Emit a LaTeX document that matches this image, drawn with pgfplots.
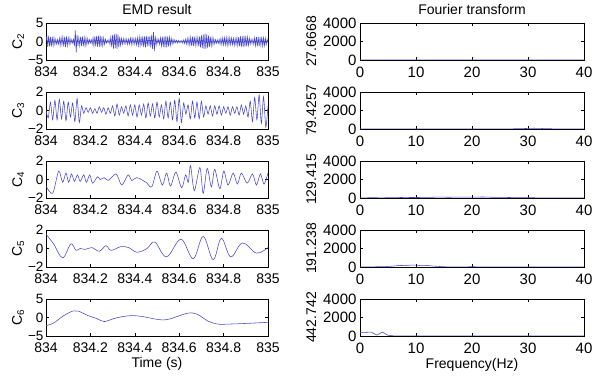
\documentclass[border=0pt]{standalone}
\usepackage{fontspec}
\setmainfont{Liberation Sans}
\usepackage{pgfplots}
\pgfplotsset{compat=1.18}
\definecolor{sig}{RGB}{70,70,200}
\pgfplotsset{
  base/.style={scale only axis, height=37pt, anchor=north west,
    tick align=inside, major tick length=3pt,
    axis line style={line width=0.5pt},
    every tick/.style={black, line width=0.5pt},
    tick label style={font=\fontsize{14}{14}\selectfont},
    xticklabel style={inner ysep=0.5pt, yshift=-6pt},
    yticklabel style={inner ysep=0.5pt},
    label style={font=\fontsize{14}{14}\selectfont},
    xlabel style={yshift=-1pt},
    title style={font=\fontsize{14}{14}\selectfont, yshift=-1pt},
    /pgf/number format/assume math mode=true,
    scaled ticks=false, clip=true},
  lft/.style={base, width=222pt, xmin=834, xmax=835,
    xtick={834,834.2,834.4,834.6,834.8,835},
    xticklabels={834,834.2,834.4,834.6,834.8,835},
    yticklabel style={xshift=1pt, font=\fontsize{13.5}{13.5}\selectfont},
    ylabel style={yshift=-3pt}},
  rgt/.style={base, width=224pt, xmin=0, xmax=40, ymin=0, ymax=4000,
    xtick={0,10,20,30,40}, xticklabels={0,10,20,30,40},
    ytick={0,2000,4000}, yticklabels={0,2000,4000},
    tick label style={font=\fontsize{15}{15}\selectfont},
    ylabel style={yshift=0pt}},
  sigl/.style={color=sig, line width=0.55pt, mark=none},
}
\begin{document}
\begin{tikzpicture}
\path[use as bounding box] (0pt,0pt) rectangle (593pt,379pt);
% ---------- left column ----------
\begin{axis}[lft, at={(46pt,356pt)}, ymin=-5, ymax=5, ytick={-5,0,5}, yticklabels={−5,0,5},
  ylabel={C\textsubscript{2}}, title={EMD result}]
\addplot[sigl] coordinates {
(834.000,0.3)(834.004,1.4)(834.008,-1.5)(834.012,1.6)(834.016,-1.3)
(834.020,1.2)(834.024,-1.4)(834.028,1.3)(834.032,-1.1)(834.036,1.0)
(834.040,-0.8)(834.044,0.6)(834.048,-0.7)(834.052,0.5)(834.056,-0.7)
(834.060,0.9)(834.064,-1.0)(834.068,1.1)(834.072,-0.9)(834.076,1.2)
(834.080,-1.4)(834.084,1.3)(834.088,-1.5)(834.092,1.4)(834.096,-1.1)
(834.100,1.0)(834.104,-0.8)(834.108,0.9)(834.112,-0.6)(834.116,0.5)
(834.120,-0.4)(834.124,0.6)(834.128,-1.2)(834.132,3.0)(834.136,-3.0)
(834.140,1.8)(834.144,-1.2)(834.148,1.0)(834.152,-1.1)(834.156,1.3)
(834.160,-1.2)(834.164,1.4)(834.168,-1.3)(834.172,1.1)(834.176,-1.2)
(834.180,1.0)(834.184,-0.9)(834.188,0.8)(834.192,-0.6)(834.196,0.5)
(834.200,-0.4)(834.204,0.5)(834.208,-0.7)(834.212,1.0)(834.216,-1.2)
(834.220,1.4)(834.224,-1.3)(834.228,1.5)(834.232,-1.4)(834.236,1.6)
(834.240,-1.5)(834.244,1.6)(834.248,-1.4)(834.252,1.3)(834.256,-1.2)
(834.260,1.0)(834.264,-0.8)(834.268,0.6)(834.272,-0.4)(834.276,0.3)
(834.280,-0.3)(834.284,0.5)(834.288,-0.8)(834.292,1.2)(834.296,-1.5)
(834.300,1.8)(834.304,-1.9)(834.308,2.0)(834.312,-1.8)(834.316,2.1)
(834.320,-2.0)(834.324,1.9)(834.328,-1.6)(834.332,1.3)(834.336,-1.0)
(834.340,0.8)(834.344,-0.7)(834.348,0.8)(834.352,-0.6)(834.356,0.7)
(834.360,-0.6)(834.364,0.7)(834.368,-0.8)(834.372,0.6)(834.376,-0.7)
(834.380,0.9)(834.384,-0.8)(834.388,0.9)(834.392,-0.7)(834.396,0.8)
(834.400,-0.7)(834.404,0.8)(834.408,-0.9)(834.412,1.0)(834.416,-1.1)
(834.420,1.2)(834.424,-1.1)(834.428,1.3)(834.432,-1.2)(834.436,1.4)
(834.440,-1.5)(834.444,1.4)(834.448,-1.6)(834.452,1.5)(834.456,-1.3)
(834.460,1.4)(834.464,-1.2)(834.468,1.5)(834.472,-1.6)(834.476,1.8)
(834.480,-2.0)(834.484,2.6)(834.488,-2.6)(834.492,1.5)(834.496,-1.0)
(834.500,0.7)(834.504,-0.5)(834.508,0.6)(834.512,-0.8)(834.516,1.0)
(834.520,-1.2)(834.524,1.3)(834.528,-1.5)(834.532,1.4)(834.536,-1.6)
(834.540,1.5)(834.544,-1.6)(834.548,1.4)(834.552,-1.3)(834.556,1.2)
(834.560,-1.0)(834.564,0.9)(834.568,-0.7)(834.572,0.6)(834.576,-0.5)
(834.580,0.4)(834.584,-0.3)(834.588,0.3)(834.592,-0.4)(834.596,0.3)
(834.600,-0.3)(834.604,0.2)(834.608,-0.3)(834.612,0.3)(834.616,-0.4)
(834.620,0.4)(834.624,-0.5)(834.628,0.6)(834.632,-0.7)(834.636,0.8)
(834.640,-0.8)(834.644,0.9)(834.648,-1.0)(834.652,1.1)(834.656,-1.2)
(834.660,1.3)(834.664,-1.2)(834.668,1.3)(834.672,-1.1)(834.676,1.0)
(834.680,-0.9)(834.684,1.1)(834.688,-1.3)(834.692,1.4)(834.696,-1.6)
(834.700,1.7)(834.704,-1.8)(834.708,1.9)(834.712,-2.0)(834.716,2.1)
(834.720,-2.0)(834.724,1.9)(834.728,-1.8)(834.732,1.6)(834.736,-1.5)
(834.740,1.3)(834.744,-1.2)(834.748,1.0)(834.752,-0.9)(834.756,0.8)
(834.760,-0.6)(834.764,0.5)(834.768,-0.5)(834.772,0.4)(834.776,-0.5)
(834.780,0.6)(834.784,-0.7)(834.788,0.8)(834.792,-0.8)(834.796,0.9)
(834.800,-0.9)(834.804,1.0)(834.808,-0.9)(834.812,1.0)(834.816,-1.1)
(834.820,1.0)(834.824,-0.9)(834.828,1.0)(834.832,-0.8)(834.836,0.9)
(834.840,-0.8)(834.844,0.9)(834.848,-1.0)(834.852,0.8)(834.856,-0.9)
(834.860,1.0)(834.864,-1.1)(834.868,1.2)(834.872,-1.3)(834.876,1.4)
(834.880,-1.5)(834.884,1.4)(834.888,-1.5)(834.892,1.6)(834.896,-1.4)
(834.900,1.5)(834.904,-1.3)(834.908,1.2)(834.912,-1.0)(834.916,0.9)
(834.920,-0.7)(834.924,0.6)(834.928,-0.5)(834.932,0.6)(834.936,-0.8)
(834.940,1.0)(834.944,-1.1)(834.948,1.2)(834.952,-1.3)(834.956,1.2)
(834.960,-1.3)(834.964,1.2)(834.968,-1.1)(834.972,1.3)(834.976,-1.2)
(834.980,1.0)(834.984,-1.1)(834.988,0.9)(834.992,-0.8)(834.996,0.6)
(835.000,-0.3)};
\end{axis}
\begin{axis}[lft, at={(46pt,287pt)}, ymin=-2, ymax=2, ytick={-2,0,2}, yticklabels={−2,0,2},
  ylabel={C\textsubscript{3}}]
\addplot[sigl, smooth, tension=0.45] coordinates {
(834.00,0.0)(834.01,-0.8)(834.02,0.9)(834.03,-1.0)(834.04,1.1)(834.05,-1.0)(834.06,1.2)(834.07,-0.9)(834.08,1.0)(834.09,-1.1)
(834.10,0.9)(834.11,-0.7)(834.12,0.8)(834.13,-1.2)(834.14,1.3)(834.15,-1.3)(834.16,0.5)(834.17,-0.3)(834.18,0.3)(834.19,-0.2)
(834.20,0.3)(834.21,-0.3)(834.22,0.2)(834.23,-0.3)(834.24,0.4)(834.25,-0.2)(834.26,0.3)(834.27,-0.4)(834.28,0.3)(834.29,-0.3)
(834.30,0.5)(834.31,-0.6)(834.32,0.7)(834.33,-0.5)(834.34,0.4)(834.35,-0.3)(834.36,0.5)(834.37,-0.6)(834.38,0.6)(834.39,-0.5)
(834.40,0.6)(834.41,-0.7)(834.42,0.6)(834.43,-0.5)(834.44,0.7)(834.45,-0.8)(834.46,0.8)(834.47,-0.6)(834.48,0.7)(834.49,-0.8)
(834.50,0.9)(834.51,-0.7)(834.52,0.6)(834.53,-0.9)(834.54,1.0)(834.55,-0.8)(834.56,0.9)(834.57,-1.0)(834.58,1.1)(834.59,-1.2)
(834.60,1.3)(834.61,-1.3)(834.62,0.8)(834.63,-0.4)(834.64,0.6)(834.65,-0.9)(834.66,1.0)(834.67,-0.8)(834.68,0.9)(834.69,-0.9)
(834.70,1.0)(834.71,-0.7)(834.72,0.5)(834.73,-0.4)(834.74,0.5)(834.75,-0.6)(834.76,0.5)(834.77,-0.4)(834.78,0.5)(834.79,-0.5)
(834.80,0.4)(834.81,-0.3)(834.82,0.4)(834.83,-0.5)(834.84,0.4)(834.85,-0.3)(834.86,0.4)(834.87,-0.5)(834.88,0.6)(834.89,-0.4)
(834.90,0.5)(834.91,-0.7)(834.92,1.0)(834.93,-1.2)(834.94,1.4)(834.95,-1.0)(834.96,1.7)(834.97,-1.4)(834.98,1.5)(834.99,-1.8)
(835.00,0.5)};
\end{axis}
\begin{axis}[lft, at={(46pt,218pt)}, ymin=-2, ymax=2, ytick={-2,0,2}, yticklabels={−2,0,2},
  ylabel={C\textsubscript{4}}]
\addplot[sigl, smooth, tension=0.5] coordinates {
(834.000,-0.7)(834.030,-1.5)(834.057,0.9)(834.075,-0.3)(834.090,0.7)(834.102,-0.3)(834.115,0.6)(834.128,-0.2)
(834.142,0.5)(834.154,-0.2)(834.170,0.5)(834.182,-0.3)(834.197,0.5)(834.210,-0.4)(834.232,0.3)(834.244,0.0)
(834.262,0.2)(834.281,-0.1)(834.316,0.6)(834.341,-0.6)(834.370,0.5)(834.386,-0.1)(834.409,0.2)(834.450,-0.3)
(834.476,-0.8)(834.500,0.9)(834.524,-0.6)(834.543,0.7)(834.561,-0.7)(834.585,0.8)(834.611,-0.9)(834.629,0.5)
(834.641,-0.3)(834.651,1.5)(834.668,-1.2)(834.693,1.3)(834.708,-1.5)(834.726,1.2)(834.745,-0.8)(834.760,1.1)
(834.783,-1.0)(834.801,0.9)(834.820,-0.6)(834.843,0.7)(834.862,-0.5)(834.880,0.7)(834.906,-0.4)(834.930,0.6)
(834.948,-0.6)(834.966,0.6)(834.982,-0.5)(835.000,0.7)};
\end{axis}
\begin{axis}[lft, at={(46pt,149pt)}, ymin=-2, ymax=2, ytick={-2,0,2}, yticklabels={−2,0,2},
  ylabel={C\textsubscript{5}}]
\addplot[sigl, smooth, tension=0.6] coordinates {
(834.000,1.55)(834.034,0.5)(834.075,-1.0)(834.112,0.5)(834.135,-0.2)(834.154,0.0)(834.177,-0.1)(834.207,0.1)
(834.240,-0.3)(834.270,0.3)(834.293,-0.2)(834.337,0.2)(834.372,0.1)(834.410,-0.4)(834.455,0.0)(834.490,0.7)
(834.543,-0.9)(834.608,1.0)(834.663,-1.1)(834.708,1.3)(834.753,-1.2)(834.790,1.1)(834.832,-0.9)(834.885,0.6)
(834.948,-0.5)(835.000,0.1)};
\end{axis}
\begin{axis}[lft, at={(46pt,80pt)}, ymin=-5, ymax=5, ytick={-5,0,5}, yticklabels={−5,0,5},
  ylabel={C\textsubscript{6}}, xlabel={Time (s)}]
\addplot[sigl, smooth, tension=0.6] coordinates {
(834.000,-2.2)(834.034,-1.5)(834.080,0.5)(834.124,1.8)(834.147,1.7)(834.190,0.5)(834.230,-0.3)(834.262,-1.1)
(834.305,-0.3)(834.350,0.3)(834.394,0.5)(834.440,0.2)(834.500,-0.5)(834.543,-0.6)(834.588,0.2)(834.633,1.1)
(834.663,1.2)(834.693,0.5)(834.730,-1.0)(834.775,-1.8)(834.813,-1.8)(834.903,-1.6)(835.000,-1.3)};
\end{axis}
% ---------- right column ----------
\begin{axis}[rgt, at={(360pt,356pt)}, ylabel={27.6668}, title={Fourier transform}]
\addplot[sigl] coordinates {(0,8)(2,5)(5,3)(10,3)(20,3)(30,5)(40,3)};
\end{axis}
\begin{axis}[rgt, at={(360pt,287pt)}, ylabel={79.4257}]
\addplot[sigl] coordinates {(0,3)(10,3)(20,5)(26,10)(28,30)(30,60)(31,80)(32,70)(33,40)(35,15)(38,5)(40,3)};
\end{axis}
\begin{axis}[rgt, at={(360pt,218pt)}, ylabel={129.415}]
\addplot[sigl] coordinates {(0,10)(2,30)(4,20)(6,40)(8,60)(10,50)(12,70)(14,90)(16,80)(18,100)(20,90)(22,110)(24,70)(26,60)(28,40)(30,30)(32,20)(35,10)(40,5)};
\end{axis}
\begin{axis}[rgt, at={(360pt,149pt)}, ylabel={191.238}]
\addplot[sigl] coordinates {(0,10)(2,20)(4,30)(5,60)(6,100)(7,170)(8,150)(9,200)(10,210)(11,130)(12,170)(13,100)(14,60)(15,30)(16,10)(18,10)(20,30)(22,10)(30,5)(40,3)};
\end{axis}
\begin{axis}[rgt, at={(360pt,80pt)}, ylabel={442.742}, xlabel={Frequency(Hz)}]
\addplot[sigl] coordinates {(0,380)(1,400)(2,420)(3,100)(4,420)(5,80)(6,20)(8,10)(10,5)(20,3)(40,2)};
\end{axis}
\end{tikzpicture}
\end{document}
